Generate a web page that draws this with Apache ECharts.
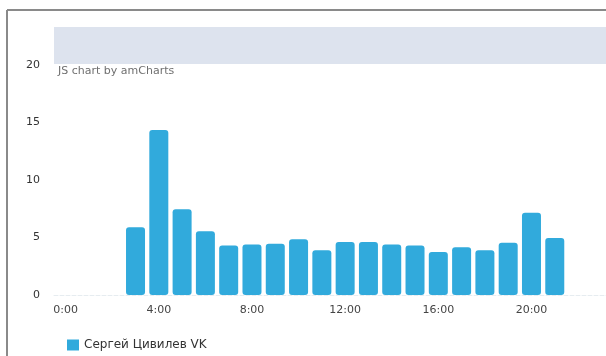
<!DOCTYPE html>
<html>
<head>
<meta charset="utf-8">
<script src="https://cdn.jsdelivr.net/npm/echarts@6/dist/echarts.min.js"></script>
<style>
  html, body { margin: 0; padding: 0; background: #fff; overflow: hidden; }
  #chart { width: 613px; height: 356px; }
</style>
</head>
<body>
<div id="chart"></div>
<script>
var hours = [];
for (var h = 0; h < 24; h++) hours.push(h + ':00');
var visits = [0, 0, 0, 5.9, 14.35, 7.45, 5.55, 4.3, 4.4, 4.45, 4.85, 3.9,
              4.6, 4.6, 4.4, 4.3, 3.75, 4.15, 3.9, 4.55, 7.15, 4.95, 0, 0];
var seriesName = 'Сергей Цивилев VK';
var yTicks = { min: 0, max: 20, step: 5 };

var chart = echarts.init(document.getElementById('chart'));
chart.setOption({
    animation: false,
    textStyle: { fontFamily: 'DejaVu Sans' },
    graphic: [
        { type: 'line', shape: { x1: 7, y1: 10, x2: 613, y2: 10 }, style: { stroke: '#8a8a8a', lineWidth: 2 } },
        { type: 'line', shape: { x1: 7, y1: 10, x2: 7, y2: 356 }, style: { stroke: '#8a8a8a', lineWidth: 2 } },
        { type: 'rect', shape: { x: 54, y: 27, width: 559, height: 37 }, style: { fill: '#dde3ee' } },
        { type: 'text', left: 58, top: 66, style: { text: 'JS chart by amCharts', fill: '#6f6f6f', font: '11px "DejaVu Sans"' } }
    ],
    legend: {
        left: 62, top: 334,
        itemWidth: 12, itemHeight: 11,
        icon: 'rect',
        textStyle: { fontSize: 12, color: '#333' },
        data: [seriesName]
    },
    grid: { left: 54, top: 65, bottom: 61, right: 0 },
    xAxis: {
        type: 'category',
        data: hours,
        axisTick: { show: false },
        axisLine: { lineStyle: { color: '#e6ecf0', type: 'dashed' } },
        axisLabel: { interval: 3, margin: 10, fontSize: 11, color: '#444' }
    },
    yAxis: {
        type: 'value',
        min: yTicks.min, max: yTicks.max, interval: yTicks.step,
        axisLine: { show: false },
        axisTick: { show: false },
        splitLine: { show: false },
        axisLabel: { margin: 14, fontSize: 11, color: '#333' }
    },
    series: [{
        name: seriesName,
        type: 'bar',
        data: visits,
        barWidth: 19,
        itemStyle: { color: '#31aadc', borderRadius: 3 }
    }]
});
</script>
</body>
</html>
